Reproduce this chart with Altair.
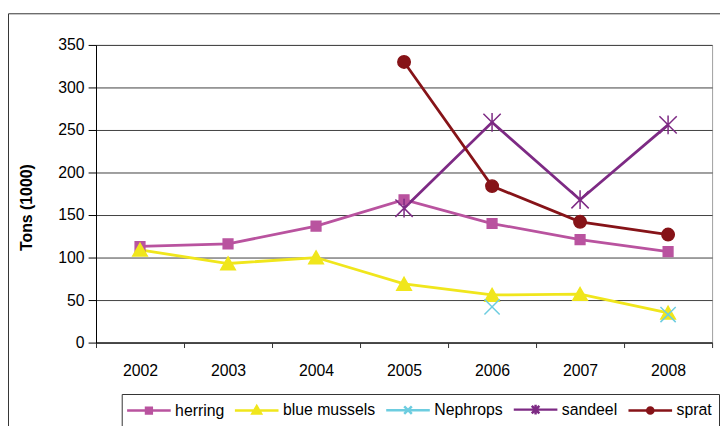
import altair as alt
import pandas as pd

years = ["2002", "2003", "2004", "2005", "2006", "2007", "2008"]
series_names = ["herring", "blue mussels", "Nephrops", "sandeel", "sprat"]
herring = [113, 116, 137, 168, 140, 121, 107]
blue_mussels = [109, 93, 100, 69, 56, 57, 35]
nephrops = [None, None, None, None, 42, None, 33]
sandeel = [None, None, None, 158, 259, 168, 256]
sprat = [None, None, None, 330, 184, 142, 127]
y_ticks = [0, 50, 100, 150, 200, 250, 300, 350]

colors = ["#B9539F", "#F0E61C", "#6DCDE0", "#7D2A84", "#861318"]

# marker shapes on the chart (unit paths, scaled by the mark size)
marker_paths = [
    "M-0.7,-0.7H0.7V0.7H-0.7Z",
    "M0,-0.95L1.05,0.9L-1.05,0.9Z",
    "M-1.1,-1.1L1.1,1.1M-1.1,1.1L1.1,-1.1",
    "M-1.25,-1.25L1.25,1.25M-1.25,1.25L1.25,-1.25M0,-1.35V1.35",
    "M-0.9,0A0.9,0.9,0,1,0,0.9,0A0.9,0.9,0,1,0,-0.9,0Z",
]
# legend symbols: short line with a small marker
legend_paths = [
    "M-3.15,0H3.15M-0.42,-0.42H0.42V0.42H-0.42Z",
    "M-3.15,0H3.15M0,-0.62L0.62,0.45L-0.62,0.45Z",
    "M-3.15,0H3.15M-0.55,-0.55L0.55,0.55M-0.55,0.55L0.55,-0.55",
    "M-3.15,0H3.15M-0.55,-0.55L0.55,0.55M-0.55,0.55L0.55,-0.55M0,-0.7V0.7",
    "M-3.15,0H3.15M-0.45,0A0.45,0.45,0,1,0,0.45,0A0.45,0.45,0,1,0,-0.45,0Z",
]

values = [herring, blue_mussels, nephrops, sandeel, sprat]
rows = []
for name, vals in zip(series_names, values):
    for yr, v in zip(years, vals):
        rows.append({"year": yr, "series": name, "value": v})
df = pd.DataFrame(rows)

FONT = "Liberation Sans"

x_enc = alt.X(
    "year:O",
    scale=alt.Scale(type="band", domain=years, paddingInner=0, paddingOuter=0),
    axis=alt.Axis(
        title=None, labelAngle=0, tickBand="extent", grid=False,
        domainColor="#333333", domainWidth=1.5, tickColor="#333333",
        tickSize=5, labelPadding=15, labelFontSize=16, labelFont=FONT,
        labelColor="black",
    ),
)
y_enc = alt.Y(
    "value:Q",
    scale=alt.Scale(domain=[0, 350], nice=False, zero=True),
    axis=alt.Axis(
        title="Tons (1000)", values=y_ticks, grid=True, gridColor="#404040",
        gridWidth=1, domainColor="black", tickColor="black", tickSize=8,
        labelPadding=4, labelFontSize=16, labelFont=FONT, labelColor="black",
        titleFont=FONT, titleFontSize=16, titleFontWeight="bold",
        titleColor="black", titleX=-62, titleY=164,
    ),
)

cscale = alt.Scale(domain=series_names, range=colors)

leg = alt.Legend(
    orient="none", legendX=26, legendY=353, direction="horizontal",
    title=None, padding=7, symbolSize=196, symbolStrokeWidth=2.5,
    symbolOffset=12, labelOffset=18, columnPadding=5,
    labelFontSize=16, labelFont=FONT, labelColor="black",
    strokeColor="#333333", fillColor="white",
)

base = alt.Chart(df)

lines = base.mark_line(strokeWidth=2.8, invalid="break-paths-show-domains").encode(
    x=x_enc, y=y_enc,
    color=alt.Color("series:N", scale=cscale, legend=None),
)

points = base.mark_point(filled=True, size=196, strokeWidth=1.5, opacity=1).encode(
    x=x_enc, y=y_enc,
    color=alt.Color("series:N", scale=cscale, legend=None),
    stroke=alt.Stroke("series:N", scale=cscale, legend=None),
    shape=alt.Shape("series:N", scale=alt.Scale(domain=series_names, range=marker_paths), legend=None),
)

legend_layer = base.mark_point(filled=True, opacity=1, clip=True).encode(
    x=alt.value(-1000), y=alt.value(-1000),
    color=alt.Color("series:N", scale=cscale, legend=leg),
    stroke=alt.Stroke("series:N", scale=cscale, legend=leg),
    shape=alt.Shape("series:N", scale=alt.Scale(domain=series_names, range=legend_paths), legend=leg),
)

frame = alt.Chart(alt.Data(values=[{}])).mark_rect(
    fill="transparent", stroke="#333333", strokeWidth=1
).encode(
    x=alt.value(-88.5), x2=alt.value(700), y=alt.value(-31.5), y2=alt.value(500)
)

chart = alt.layer(frame, lines, points, legend_layer).resolve_scale(
    color="independent", stroke="independent", shape="independent"
).properties(
    width=623, height=301,
    padding={"left": 89, "top": 35, "right": 8, "bottom": 82},
    autosize=alt.AutoSizeParams(type="none"),
    background="white",
).configure_view(stroke="#A0A0A0", strokeWidth=1)

chart.save("out.html", embed_options={"renderer": "svg", "actions": False})
